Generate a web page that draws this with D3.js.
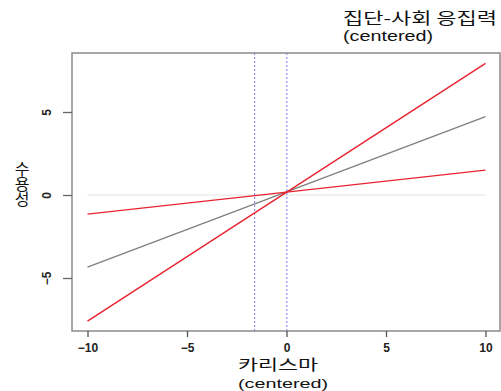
<!DOCTYPE html>
<html>
<head>
<meta charset="utf-8">
<script src="https://cdn.jsdelivr.net/npm/d3@7"></script>
<style>
  body { margin: 0; background: #fff; }
  svg { display: block; }
</style>
</head>
<body>
<div id="vis"></div>
<script>
// simple slopes of 수용성 on 카리스마 at levels of the moderator
const xRange = [-10, 10]
const meanLine = [-4.35, 4.72]      // gray, moderator at mean
const highLine = [-7.6, 7.93]       // red, steep
const lowLine = [-1.15, 1.5]        // red, shallow
const jnBounds = [-1.6, 0.02]       // blue dotted region bounds
const xTicks = [-10, -5, 0, 5, 10]
const yTicks = [-5, 0, 5]

const width = 501
const height = 391
const box = { left: 72, right: 500, top: 53, bottom: 331 }

const svg = d3.select("#vis").append("svg")
  .attr("width", width)
  .attr("height", height)
  .attr("font-family", "'Liberation Sans', Arial, sans-serif")

const x = d3.scaleLinear().domain([-10, 10]).range([87.5, 485.5])
const y = d3.scaleLinear().domain([-5, 5]).range([278, 112])

// zero reference line
svg.append("line")
  .attr("x1", x(xRange[0])).attr("x2", x(xRange[1]))
  .attr("y1", y(0)).attr("y2", y(0))
  .attr("stroke", "#e4e4e4")
  .attr("stroke-width", 1)

// vertical dotted bounds
svg.append("g")
  .selectAll("line")
  .data(jnBounds)
  .join("line")
  .attr("x1", d => x(d)).attr("x2", d => x(d))
  .attr("y1", box.top).attr("y2", box.bottom)
  .attr("stroke", "#7b7bf0")
  .attr("stroke-width", 1)
  .attr("stroke-dasharray", "2,2")

const line = d3.line()
  .x((d, i) => x(xRange[i]))
  .y(d => y(d))

svg.append("path")
  .attr("d", line(meanLine))
  .attr("fill", "none")
  .attr("stroke", "#7f7f7f")
  .attr("stroke-width", 1.3)

// red lines
svg.append("g")
  .selectAll("path")
  .data([highLine, lowLine])
  .join("path")
  .attr("d", d => line(d))
  .attr("fill", "none")
  .attr("stroke", "#e8232f")
  .attr("stroke-width", 1.4)

// plot box
svg.append("rect")
  .attr("x", box.left).attr("y", box.top)
  .attr("width", box.right - box.left)
  .attr("height", box.bottom - box.top)
  .attr("fill", "none")
  .attr("stroke", "#8a8a8a")
  .attr("stroke-width", 1.5)

// x axis
const xAxis = g => g
  .attr("transform", `translate(0,${box.bottom})`)
  .call(d3.axisBottom(x).tickValues(xTicks).tickSize(6).tickPadding(6).tickFormat(d3.format("d")))
  .call(g => g.select(".domain").remove())
  .call(g => g.selectAll(".tick line").attr("stroke", "#555").attr("stroke-width", 1.3))
  .call(g => g.selectAll(".tick text")
    .attr("fill", "#222")
    .attr("font-size", 12)
    .attr("font-weight", "bold")
    .attr("font-family", "'Liberation Sans', Arial, sans-serif"))

svg.append("g").call(xAxis)

// y axis, labels turned like R's default
const yAxis = g => g
  .attr("transform", `translate(${box.left},0)`)
  .call(d3.axisLeft(y).tickValues(yTicks).tickSize(9).tickFormat(d3.format("d")))
  .call(g => g.select(".domain").remove())
  .call(g => g.selectAll(".tick line").attr("stroke", "#666").attr("stroke-width", 1.3))
  .call(g => g.selectAll(".tick text")
    .attr("fill", "#222")
    .attr("font-size", 12)
    .attr("font-weight", "bold")
    .attr("font-family", "'Liberation Sans', Arial, sans-serif")
    .attr("text-anchor", "middle")
    .attr("x", null)
    .attr("dy", null)
    .attr("transform", "translate(-24,0) rotate(-90)")
    .attr("dominant-baseline", "middle"))

svg.append("g").call(yAxis)

const kr = "'Noto Sans CJK KR', sans-serif"
const latin = "'Liberation Sans', Arial, sans-serif"

// x label
svg.append("text")
  .attr("x", 238).attr("y", 370)
  .attr("font-family", kr)
  .attr("font-size", 15)
  .attr("fill", "#111")
  .attr("textLength", 80)
  .attr("lengthAdjust", "spacingAndGlyphs")
  .text("카리스마")

svg.append("text")
  .attr("x", 238).attr("y", 387.5)
  .attr("font-family", latin)
  .attr("font-size", 13.5)
  .attr("fill", "#111")
  .attr("textLength", 90)
  .attr("lengthAdjust", "spacingAndGlyphs")
  .text("(centered)")

// y label, written top to bottom with upright glyphs
svg.append("text")
  .attr("x", 22).attr("y", 183)
  .attr("writing-mode", "vertical-rl")
  .style("text-orientation", "upright")
  .attr("text-anchor", "middle")
  .attr("font-family", kr)
  .attr("font-size", 16)
  .attr("fill", "#111")
  .attr("letter-spacing", -1)
  .text("수용성")

// moderator title
svg.append("text")
  .attr("x", 343).attr("y", 24)
  .attr("font-family", kr)
  .attr("font-size", 16)
  .attr("fill", "#111")
  .attr("textLength", 154)
  .attr("lengthAdjust", "spacingAndGlyphs")
  .text("집단-사회 응집력")

svg.append("text")
  .attr("x", 343).attr("y", 41)
  .attr("font-family", latin)
  .attr("font-size", 14)
  .attr("fill", "#111")
  .attr("textLength", 90)
  .attr("lengthAdjust", "spacingAndGlyphs")
  .text("(centered)")
</script>
</body>
</html>
